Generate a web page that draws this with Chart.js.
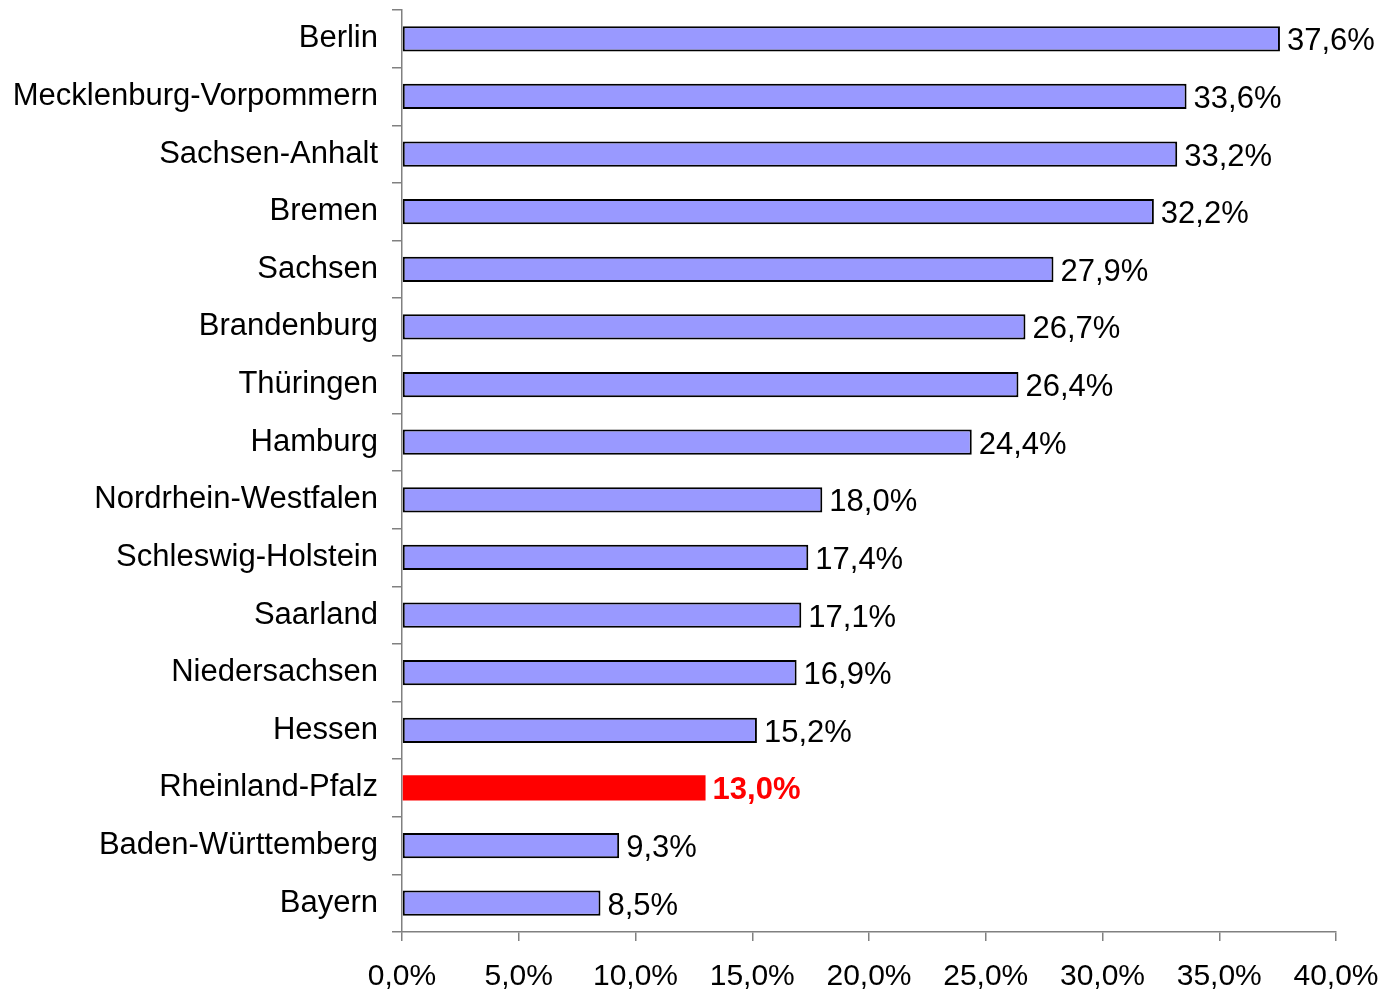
<!DOCTYPE html>
<html lang="de">
<head>
<meta charset="UTF-8">
<title>Bundeslaender</title>
<style>
  body { margin: 0; background: #fff; }
  #wrap { width: 1385px; height: 991px; }
</style>
</head>
<body>
<div id="wrap"><canvas id="chart" width="1385" height="991"></canvas></div>
<script src="https://cdn.jsdelivr.net/npm/chart.js@4.4.0/dist/chart.umd.min.js"></script>
<script>
var laender = ["Berlin", "Mecklenburg-Vorpommern", "Sachsen-Anhalt", "Bremen", "Sachsen",
  "Brandenburg", "Thüringen", "Hamburg", "Nordrhein-Westfalen", "Schleswig-Holstein",
  "Saarland", "Niedersachsen", "Hessen", "Rheinland-Pfalz", "Baden-Württemberg", "Bayern"];
var anteil = [37.6, 33.6, 33.2, 32.2, 27.9, 26.7, 26.4, 24.4, 18.0, 17.4, 17.1, 16.9, 15.2, 13.0, 9.3, 8.5];
var markiert = "Rheinland-Pfalz";
var xTicks = [0, 5, 10, 15, 20, 25, 30, 35, 40];

function fmt(v) { return v.toFixed(1).replace(".", ",") + "%"; }

var farben = laender.map(function (l) { return l === markiert ? "#FF0000" : "#9999FF"; });
var raender = laender.map(function (l) { return l === markiert ? 0 : 2; });

// Werte rechts neben den Balken
var wertePlugin = {
  id: "werte",
  afterDatasetsDraw: function (chart) {
    var ctx = chart.ctx;
    var meta = chart.getDatasetMeta(0);
    ctx.save();
    ctx.textBaseline = "middle";
    ctx.textAlign = "left";
    meta.data.forEach(function (bar, i) {
      var rot = laender[i] === markiert;
      ctx.font = (rot ? "bold " : "") + "31px 'Liberation Sans', Arial, sans-serif";
      ctx.fillStyle = rot ? "#FF0000" : "#000000";
      ctx.fillText(fmt(anteil[i]), bar.x + 7, bar.y + 3);
    });
    ctx.restore();
  }
};

new Chart(document.getElementById("chart"), {
  type: "bar",
  data: {
    labels: laender,
    datasets: [{
      data: anteil,
      backgroundColor: farben,
      borderColor: "#000000",
      borderWidth: raender,
      borderSkipped: false,
      categoryPercentage: 1.0,
      barPercentage: 0.44
    }]
  },
  options: {
    indexAxis: "y",
    responsive: false,
    animation: false,
    layout: { padding: { top: 10, right: 49, left: 0, bottom: 0 } },
    plugins: { legend: { display: false }, tooltip: { enabled: false } },
    scales: {
      x: {
        min: 0, max: 40,
        afterBuildTicks: function (axis) { axis.ticks = xTicks.map(function (v) { return { value: v }; }); },
        afterFit: function (axis) {
          axis.height = 59;
          axis.paddingLeft = 0;
          axis.paddingRight = 0;
        },
        border: { color: "#808080", width: 1.5 },
        grid: { drawOnChartArea: false, tickLength: 9, color: "#808080", lineWidth: 1.5 },
        ticks: {
          color: "#000", padding: 18,
          font: { family: "'Liberation Sans', Arial, sans-serif", size: 30 },
          callback: function (v) { return fmt(v); }
        }
      },
      y: {
        afterFit: function (axis) {
          axis.width = 402;
          axis.paddingTop = 0;
          axis.paddingBottom = 0;
        },
        border: { color: "#808080", width: 1.5 },
        grid: { drawOnChartArea: false, offset: true, tickLength: 10, color: "#808080", lineWidth: 1.5 },
        ticks: {
          color: "#000", padding: 14,
          font: { family: "'Liberation Sans', Arial, sans-serif", size: 31 }
        }
      }
    }
  },
  plugins: [wertePlugin]
});
</script>
</body>
</html>
